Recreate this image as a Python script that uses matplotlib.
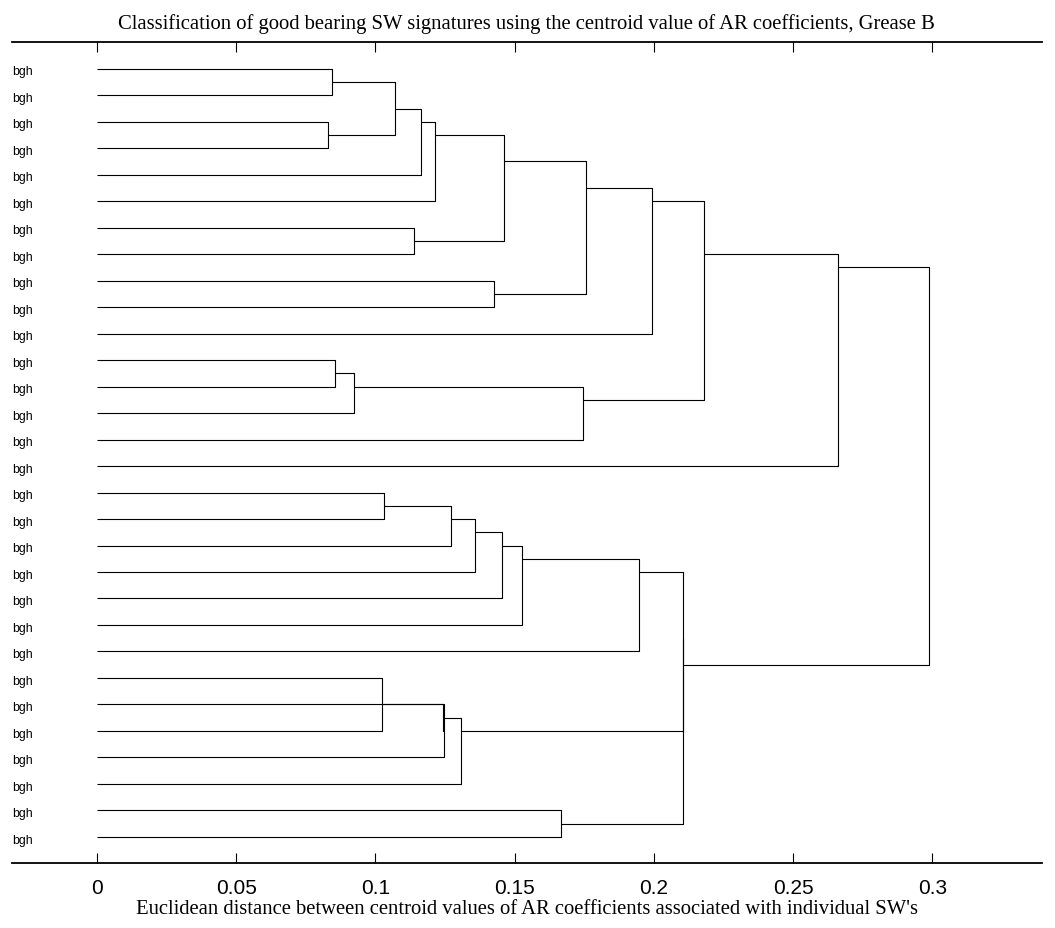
import numpy as np
import matplotlib
matplotlib.use('Agg')
import matplotlib.pyplot as plt

# leaves shown top to bottom (rows 1..30)
leaf_labels = ['bgh'] * 30

# linkage: leaves are 0..29, each link creates node 30, 31, ...
link_a = [0, 2, 30, 32, 33, 6, 34, 8, 36, 38, 11, 40, 41, 39, 43,
          16, 45, 46, 47, 48, 49, 23, 24, 51, 53, 28, 50, 56, 44]
link_b = [1, 3, 31, 4, 5, 7, 35, 9, 37, 10, 12, 13, 14, 42, 15,
          17, 18, 19, 20, 21, 22, 25, 26, 52, 27, 29, 54, 55, 57]
link_h = [0.0843, 0.0831, 0.1070, 0.1163, 0.1214, 0.1140, 0.1461, 0.1427,
          0.1757, 0.1993, 0.0855, 0.0924, 0.1746, 0.2181, 0.2663,
          0.1032, 0.1271, 0.1358, 0.1456, 0.1525, 0.1948,
          0.1025, 0.1245, 0.1243, 0.1309, 0.1667, 0.2103, 0.2106, 0.2989]

xticks = [0, 0.05, 0.1, 0.15, 0.2, 0.25, 0.3]
xticklabels = ['0', '0.05', '0.1', '0.15', '0.2', '0.25', '0.3']

n = len(leaf_labels)
members = {i: [i + 1] for i in range(n)}
height = {i: 0.0 for i in range(n)}

fig = plt.figure(figsize=(10.55, 9.29), dpi=100)
ax = fig.add_axes([0.0111, 0.0696, 0.9763, 0.8838])

for k, (a, b, h) in enumerate(zip(link_a, link_b, link_h)):
    ya = np.mean(members[a])
    yb = np.mean(members[b])
    ax.plot([height[a], h, h, height[b]], [ya, ya, yb, yb],
            color='black', lw=0.8, solid_capstyle='butt')
    node = n + k
    members[node] = members[a] + members[b]
    height[node] = h

for i, lab in enumerate(leaf_labels):
    ax.text(-0.0305, i + 1 + 0.1, lab, ha='left', va='center',
            fontsize=8.8, family='Liberation Sans')

ax.set_xlim(-0.03063, 0.33928)
ax.set_ylim(n + 1, 0)
ax.set_yticks([])
ax.set_xticks(xticks)
ax.set_xticklabels(xticklabels, family='Liberation Sans', fontsize=15)
ax.tick_params(axis='x', direction='in', length=7, width=0.8,
               top=True, bottom=True, pad=10.5)
ax.spines['left'].set_visible(False)
ax.spines['right'].set_visible(False)
ax.spines['top'].set_linewidth(1.3)
ax.spines['bottom'].set_linewidth(1.3)

ax.set_title('Classification of good bearing SW signatures using the centroid value of AR coefficients, Grease B',
             family='Liberation Serif', fontsize=14.9, pad=10.5)
ax.set_xlabel("Euclidean distance between centroid values of AR coefficients associated with individual SW's",
              family='Liberation Serif', fontsize=14.9, labelpad=1.5)

fig.savefig('out.png', dpi=100)
